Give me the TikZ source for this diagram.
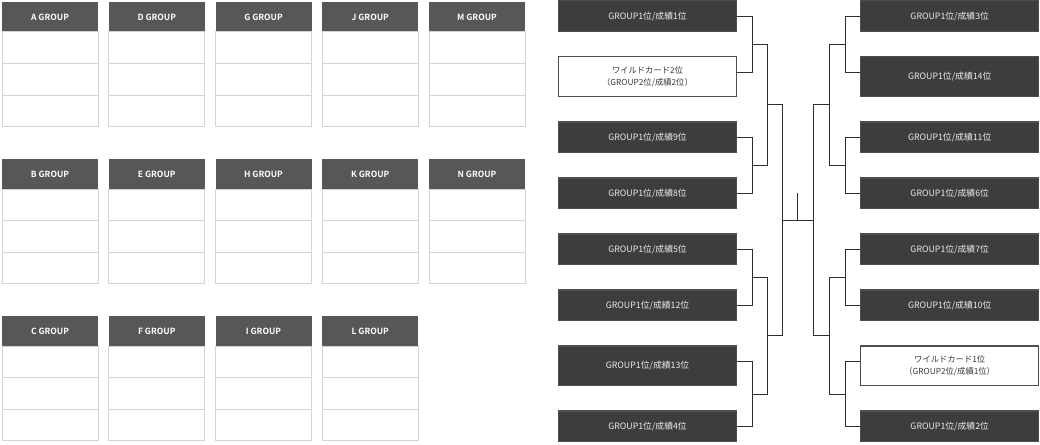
\documentclass[tikz,border=0pt]{standalone}
\usepackage{fontspec}
\newfontfamily\jpfont{Noto Sans CJK JP}
\newfontfamily\grpfont{Noto Sans CJK JP}[BoldFont={Noto Sans CJK JP Bold}]
\usepackage{tikz}
\usetikzlibrary{positioning, calc}

\definecolor{headgray}{HTML}{575757}
\definecolor{cellgray}{HTML}{D4D4D4}
\definecolor{seeddark}{HTML}{3D3D3D}
\definecolor{seedline}{HTML}{4E4E4E}
\definecolor{wiregray}{HTML}{2E2E2E}

\tikzset{
  grouphead/.style={rectangle, fill=headgray, text=white, font=\grpfont\bfseries\fontsize{8.5}{10}\selectfont, minimum width=96pt, minimum height=30pt, inner sep=0pt, outer sep=0pt, anchor=north west},
  groupcell/.style={rectangle, draw=cellgray, line width=1pt, fill=white, minimum width=96pt, minimum height=31.5pt, inner sep=0pt, outer sep=0pt},
  seedbox/.style={rectangle, draw=seedline, line width=1.2pt, fill=seeddark, text=white!92!black, font=\jpfont\fontsize{8.8}{10}\selectfont, minimum width=178pt, minimum height=30.8pt, inner sep=0pt},
  tallbox/.style={seedbox, minimum height=39.8pt},
  wildbox/.style={tallbox, fill=white, text=black!78, align=center, font=\jpfont\fontsize{8.3}{12}\selectfont},
  wire/.style={draw=wiregray, line width=1pt},
}

\begin{document}
\begin{tikzpicture}[x=1pt, y=-1pt]
    \useasboundingbox (0,0) rectangle (1040,444);%page size
    % =============== group tables ====================
    \foreach \grp/\col/\row in {A/0/0, D/1/0, G/2/0, J/3/0, M/4/0, B/0/1, E/1/1, H/2/1, K/3/1, N/4/1, C/0/2, F/1/2, I/2/2, L/3/2}{
      \node (head\grp) [grouphead] at (2+106.75*\col, 2+157*\row) {\grp{} GROUP};%draws header
      \node (cell\grp a) [groupcell, below=0pt of head\grp] {};%first row
      \node (cell\grp b) [groupcell, below=0pt of cell\grp a] {};%second row
      \node (cell\grp c) [groupcell, below=0pt of cell\grp b] {};%third row
    }
    % =============== bracket, left half ====================
    \node (L1) [seedbox] at (647.5,16.3) {GROUP1位/成績1位};%draws seed 1
    \node (L2) [wildbox, below=24pt of L1] {ワイルドカード2位\\（GROUP2位/成績2位）};%draws wild card 2
    \node (L3) [seedbox, below=24pt of L2] {GROUP1位/成績9位};%draws seed 9
    \node (L4) [seedbox, below=24pt of L3] {GROUP1位/成績8位};%draws seed 8
    \node (L5) [seedbox, below=24pt of L4] {GROUP1位/成績5位};%draws seed 5
    \node (L6) [seedbox, below=24pt of L5] {GROUP1位/成績12位};%draws seed 12
    \node (L7) [tallbox, below=24pt of L6] {GROUP1位/成績13位};%draws seed 13
    \node (L8) [seedbox, below=24pt of L7] {GROUP1位/成績4位};%draws seed 4
    % =============== bracket, right half ====================
    \node (R1) [seedbox, right=123pt of L1] {GROUP1位/成績3位};%draws seed 3
    \node (R2) [tallbox, below=24pt of R1] {GROUP1位/成績14位};%draws seed 14
    \node (R3) [seedbox, below=24pt of R2] {GROUP1位/成績11位};%draws seed 11
    \node (R4) [seedbox, below=24pt of R3] {GROUP1位/成績6位};%draws seed 6
    \node (R5) [seedbox, below=24pt of R4] {GROUP1位/成績7位};%draws seed 7
    \node (R6) [seedbox, below=24pt of R5] {GROUP1位/成績10位};%draws seed 10
    \node (R7) [wildbox, below=24pt of R6] {ワイルドカード1位\\（GROUP2位/成績1位）};%draws wild card 1
    \node (R8) [seedbox, below=24pt of R7] {GROUP1位/成績2位};%draws seed 2
    % =============== junctions ====================
    \coordinate (jL12) at ($(L1.east)!0.5!([yshift=4pt]L2.east) + (15,0)$);
    \coordinate (jL34) at ($(L3.east)!0.5!(L4.east) + (15,0)$);
    \coordinate (jL56) at ($(L5.east)!0.5!(L6.east) + (15,0)$);
    \coordinate (jL78) at ($([yshift=4pt]L7.east)!0.5!(L8.east) + (15,0)$);
    \coordinate (jL14) at ($(jL12)!0.5!(jL34) + (15,0)$);
    \coordinate (jL58) at ($(jL56)!0.5!(jL78) + (15,0)$);
    \coordinate (jLf) at ($(jL14)!0.5!(jL58) + (15,0)$);
    \coordinate (jR12) at ($(R1.west)!0.5!([yshift=4pt]R2.west) + (-15,0)$);
    \coordinate (jR34) at ($(R3.west)!0.5!(R4.west) + (-15,0)$);
    \coordinate (jR56) at ($(R5.west)!0.5!(R6.west) + (-15,0)$);
    \coordinate (jR78) at ($([yshift=4pt]R7.west)!0.5!(R8.west) + (-15,0)$);
    \coordinate (jR14) at ($(jR12)!0.5!(jR34) + (-16,0)$);
    \coordinate (jR58) at ($(jR56)!0.5!(jR78) + (-16,0)$);
    \coordinate (jRf) at ($(jR14)!0.5!(jR58) + (-16,0)$);
    \coordinate (champ) at ($(jLf)!0.5!(jRf)$);
    \coordinate (champtop) at ($(champ) + (0,-27)$);
    % =============== connectors ====================
    \draw[wire] (L1.east) -| (jL12) |- ([yshift=4pt]L2.east);%first round
    \draw[wire] (L3.east) -| (jL34) |- (L4.east);
    \draw[wire] (L5.east) -| (jL56) |- (L6.east);
    \draw[wire] ([yshift=4pt]L7.east) -| (jL78) |- (L8.east);
    \draw[wire] (jL12) -| (jL14) |- (jL34);%second round
    \draw[wire] (jL56) -| (jL58) |- (jL78);
    \draw[wire] (jL14) -| (jLf) |- (jL58);%semi final
    \draw[wire] (R1.west) -| (jR12) |- ([yshift=4pt]R2.west);%first round
    \draw[wire] (R3.west) -| (jR34) |- (R4.west);
    \draw[wire] (R5.west) -| (jR56) |- (R6.west);
    \draw[wire] ([yshift=4pt]R7.west) -| (jR78) |- (R8.west);
    \draw[wire] (jR12) -| (jR14) |- (jR34);%second round
    \draw[wire] (jR56) -| (jR58) |- (jR78);
    \draw[wire] (jR14) -| (jRf) |- (jR58);%semi final
    \draw[wire] (jLf) -- (jRf);%final
    \draw[wire] (champ) -- (champtop);%winner
\end{tikzpicture}
\end{document}
